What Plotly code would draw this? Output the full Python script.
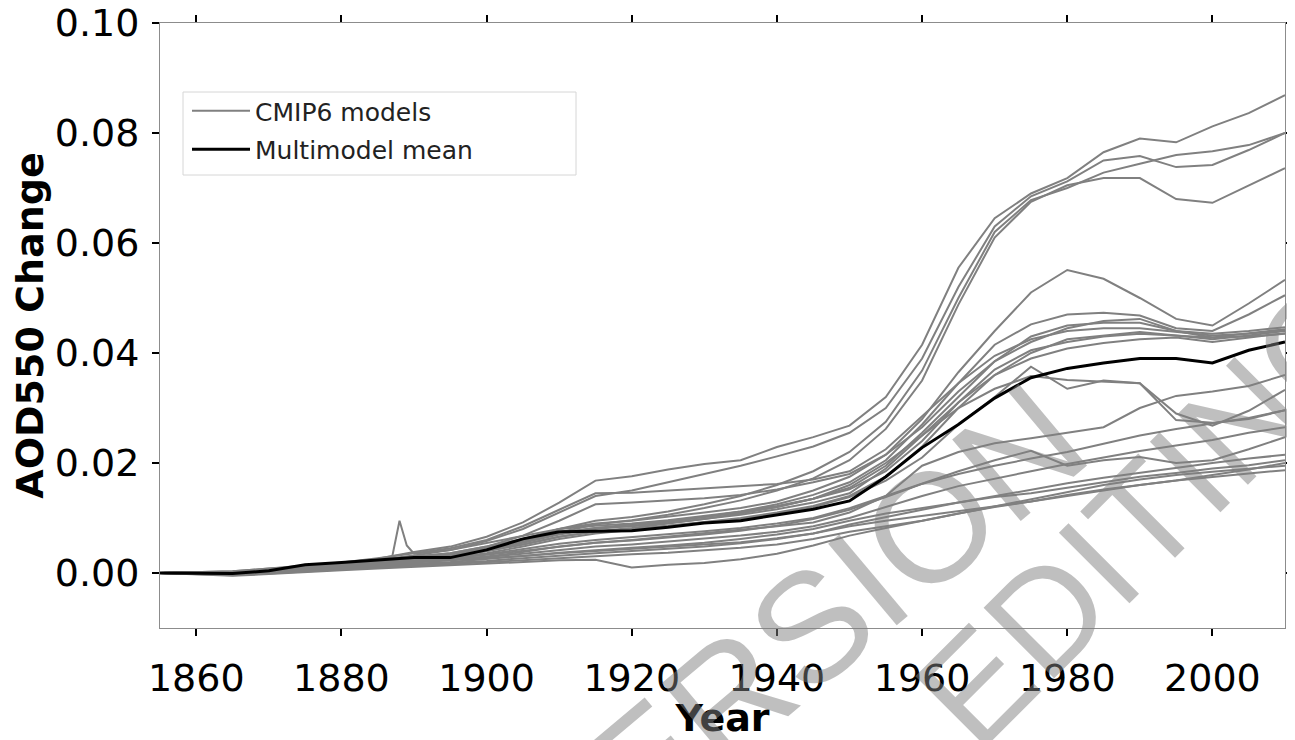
import plotly.graph_objects as go

# ---------------- data (AOD550 change relative to 1850s) ----------------
years = [1855, 1860, 1865, 1870, 1875, 1880, 1885, 1890, 1895, 1900,
         1905, 1910, 1915, 1920, 1925, 1930, 1935, 1940, 1945, 1950,
         1955, 1960, 1965, 1970, 1975, 1980, 1985, 1990, 1995, 2000,
         2005, 2010]

model_t1 = [0, 0.0002, 0.0003, 0.0008, 0.0012, 0.0018, 0.0026, 0.0038, 0.0048, 0.0066, 0.0092, 0.0128, 0.0168, 0.0176, 0.0188, 0.0198, 0.0205, 0.0229, 0.0247, 0.0268, 0.0320, 0.0415, 0.0555, 0.0645, 0.0690, 0.0718, 0.0765, 0.0790, 0.0783, 0.0812, 0.0836, 0.0869]
model_t2 = [0, -0.0002, 0.0002, 0.0006, 0.0011, 0.0016, 0.0024, 0.0032, 0.0042, 0.0058, 0.0080, 0.0110, 0.0140, 0.0150, 0.0165, 0.0180, 0.0195, 0.0212, 0.0230, 0.0255, 0.0300, 0.0390, 0.0520, 0.0630, 0.0685, 0.0712, 0.0750, 0.0758, 0.0738, 0.0742, 0.0769, 0.0800]
model_t3 = [0, 0.0001, -0.0003, 0.0005, 0.0010, 0.0015, 0.0020, 0.0028, 0.0034, 0.0045, 0.0060, 0.0080, 0.0095, 0.0102, 0.0112, 0.0125, 0.0140, 0.0160, 0.0185, 0.0220, 0.0275, 0.0368, 0.0500, 0.0620, 0.0678, 0.0700, 0.0728, 0.0744, 0.0760, 0.0767, 0.0778, 0.0800]
model_t4 = [0, 0, 0.0001, 0.0004, 0.0009, 0.0014, 0.0019, 0.0026, 0.0032, 0.0042, 0.0056, 0.0074, 0.0088, 0.0096, 0.0106, 0.0118, 0.0132, 0.0150, 0.0172, 0.0205, 0.0262, 0.0350, 0.0488, 0.0610, 0.0675, 0.0705, 0.0718, 0.0718, 0.0680, 0.0673, 0.0705, 0.0736]
model_h = [0, 0.0001, 0.0002, 0.0007, 0.0011, 0.0017, 0.0022, 0.0030, 0.0036, 0.0048, 0.0062, 0.0080, 0.0090, 0.0095, 0.0102, 0.0110, 0.0118, 0.0130, 0.0150, 0.0175, 0.0215, 0.0280, 0.0365, 0.0440, 0.0510, 0.0551, 0.0535, 0.0500, 0.0462, 0.0450, 0.0490, 0.0533]
model_p1 = [0, 0, 0.0002, 0.0006, 0.0010, 0.0016, 0.0021, 0.0027, 0.0032, 0.0042, 0.0055, 0.0070, 0.0080, 0.0086, 0.0093, 0.0102, 0.0112, 0.0125, 0.0142, 0.0165, 0.0205, 0.0270, 0.0345, 0.0415, 0.0452, 0.0470, 0.0473, 0.0468, 0.0445, 0.0440, 0.0470, 0.0505]
model_p2 = [0, -0.0002, 0, 0.0005, 0.0009, 0.0015, 0.0020, 0.0026, 0.0030, 0.0040, 0.0052, 0.0066, 0.0076, 0.0082, 0.0090, 0.0098, 0.0108, 0.0120, 0.0135, 0.0155, 0.0195, 0.0255, 0.0320, 0.0385, 0.0430, 0.0450, 0.0455, 0.0455, 0.0440, 0.0435, 0.0440, 0.0447]
model_p3 = [0, 0.0001, -0.0001, 0.0004, 0.0008, 0.0013, 0.0018, 0.0024, 0.0028, 0.0036, 0.0048, 0.0062, 0.0072, 0.0078, 0.0085, 0.0093, 0.0100, 0.0110, 0.0122, 0.0140, 0.0175, 0.0230, 0.0300, 0.0360, 0.0400, 0.0425, 0.0432, 0.0438, 0.0432, 0.0425, 0.0432, 0.0440]
model_p4 = [0, 0, 0.0001, 0.0005, 0.0010, 0.0016, 0.0023, 0.0030, 0.0036, 0.0048, 0.0068, 0.0095, 0.0125, 0.0128, 0.0132, 0.0136, 0.0142, 0.0152, 0.0165, 0.0180, 0.0215, 0.0265, 0.0330, 0.0385, 0.0420, 0.0445, 0.0458, 0.0462, 0.0440, 0.0428, 0.0430, 0.0435]
model_m2 = [0, 0.0002, 0.0003, 0.0008, 0.0013, 0.0019, 0.0027, 0.0036, 0.0045, 0.0060, 0.0085, 0.0115, 0.0145, 0.0146, 0.0150, 0.0154, 0.0157, 0.0162, 0.0170, 0.0185, 0.0225, 0.0285, 0.0345, 0.0395, 0.0425, 0.0440, 0.0445, 0.0445, 0.0438, 0.0432, 0.0435, 0.0442]
model_m3 = [0, -0.0001, 0.0001, 0.0005, 0.0010, 0.0015, 0.0021, 0.0027, 0.0031, 0.0042, 0.0058, 0.0074, 0.0082, 0.0085, 0.0091, 0.0099, 0.0106, 0.0116, 0.0128, 0.0145, 0.0190, 0.0250, 0.0310, 0.0360, 0.0390, 0.0408, 0.0418, 0.0425, 0.0428, 0.0420, 0.0428, 0.0436]
model_d1 = [0, 0.0001, 0.0001, 0.0006, 0.0010, 0.0015, 0.0020, 0.0026, 0.0031, 0.0040, 0.0052, 0.0066, 0.0075, 0.0080, 0.0086, 0.0092, 0.0098, 0.0108, 0.0120, 0.0138, 0.0168, 0.0210, 0.0270, 0.0320, 0.0375, 0.0335, 0.0350, 0.0345, 0.0278, 0.0273, 0.0280, 0.0296]
model_d2 = [0, -0.0001, 0.0002, 0.0006, 0.0011, 0.0016, 0.0022, 0.0028, 0.0033, 0.0044, 0.0058, 0.0072, 0.0082, 0.0088, 0.0095, 0.0102, 0.0110, 0.0120, 0.0135, 0.0160, 0.0200, 0.0250, 0.0300, 0.0335, 0.0358, 0.0351, 0.0348, 0.0345, 0.0290, 0.0268, 0.0295, 0.0333]
model_r1 = [0, 0, -0.0002, 0.0003, 0.0007, 0.0012, 0.0016, 0.0020, 0.0024, 0.0030, 0.0038, 0.0048, 0.0055, 0.0060, 0.0066, 0.0072, 0.0078, 0.0085, 0.0092, 0.0110, 0.0140, 0.0195, 0.0220, 0.0236, 0.0245, 0.0255, 0.0265, 0.0300, 0.0322, 0.0330, 0.0340, 0.0360]
model_s1 = [0, 0.0002, 0.0001, 0.0005, 0.0009, 0.0014, 0.0018, 0.0023, 0.0027, 0.0034, 0.0043, 0.0053, 0.0060, 0.0065, 0.0070, 0.0076, 0.0082, 0.0090, 0.0100, 0.0118, 0.0140, 0.0162, 0.0185, 0.0205, 0.0222, 0.0195, 0.0205, 0.0211, 0.0200, 0.0205, 0.0225, 0.0247]
model_l1 = [0, -0.0001, -0.0002, 0.0002, 0.0006, 0.0010, 0.0013, 0.0017, 0.0020, 0.0025, 0.0031, 0.0037, 0.0042, 0.0046, 0.0050, 0.0055, 0.0062, 0.0070, 0.0080, 0.0095, 0.0108, 0.0118, 0.0128, 0.0138, 0.0145, 0.0155, 0.0165, 0.0175, 0.0182, 0.0190, 0.0196, 0.0205]
model_l2 = [0, 0, -0.0003, 0.0001, 0.0005, 0.0009, 0.0012, 0.0015, 0.0018, 0.0022, 0.0027, 0.0032, 0.0036, 0.0040, 0.0044, 0.0048, 0.0054, 0.0062, 0.0072, 0.0085, 0.0095, 0.0104, 0.0113, 0.0122, 0.0130, 0.0142, 0.0152, 0.0160, 0.0168, 0.0178, 0.0188, 0.0200]
model_l3 = [0, -0.0002, -0.0004, -0.0001, 0.0003, 0.0007, 0.0010, 0.0013, 0.0016, 0.0019, 0.0023, 0.0027, 0.0031, 0.0034, 0.0037, 0.0041, 0.0046, 0.0052, 0.0062, 0.0075, 0.0085, 0.0095, 0.0108, 0.0120, 0.0130, 0.0140, 0.0150, 0.0160, 0.0168, 0.0175, 0.0181, 0.0187]
model_l4 = [0, 0.0001, 0, 0.0004, 0.0008, 0.0012, 0.0016, 0.0020, 0.0024, 0.0029, 0.0035, 0.0042, 0.0048, 0.0052, 0.0057, 0.0062, 0.0068, 0.0075, 0.0085, 0.0100, 0.0120, 0.0140, 0.0158, 0.0172, 0.0185, 0.0198, 0.0210, 0.0222, 0.0232, 0.0242, 0.0255, 0.0265]
model_l5 = [0, 0, 0.0001, 0.0005, 0.0009, 0.0014, 0.0018, 0.0023, 0.0027, 0.0033, 0.0040, 0.0048, 0.0055, 0.0059, 0.0064, 0.0070, 0.0077, 0.0086, 0.0098, 0.0115, 0.0138, 0.0162, 0.0180, 0.0195, 0.0208, 0.0220, 0.0235, 0.0250, 0.0262, 0.0272, 0.0282, 0.0296]
model_l6 = [0, -0.0003, -0.0005, -0.0002, 0.0002, 0.0005, 0.0008, 0.0011, 0.0014, 0.0017, 0.0020, 0.0023, 0.0024, 0.0010, 0.0015, 0.0018, 0.0025, 0.0035, 0.0050, 0.0068, 0.0082, 0.0095, 0.0108, 0.0122, 0.0135, 0.0148, 0.0160, 0.0170, 0.0178, 0.0184, 0.0190, 0.0195]
model_l7 = [0, 0, -0.0001, 0.0003, 0.0007, 0.0011, 0.0015, 0.0019, 0.0022, 0.0026, 0.0031, 0.0036, 0.0040, 0.0043, 0.0047, 0.0051, 0.0056, 0.0063, 0.0072, 0.0088, 0.0102, 0.0115, 0.0128, 0.0140, 0.0152, 0.0163, 0.0173, 0.0182, 0.0192, 0.0200, 0.0208, 0.0215]

# model with a volcanic-like spike near 1888 (own year axis)
years_m1 = [1855, 1860, 1865, 1870, 1875, 1880, 1885, 1887, 1888, 1889, 1890, 1895, 1900,
            1905, 1910, 1915, 1920, 1925, 1930, 1935, 1940, 1945, 1950, 1955, 1960,
            1965, 1970, 1975, 1980, 1985, 1990, 1995, 2000, 2005, 2010]
model_m1 = [0, 0, 0.0002, 0.0006, 0.0010, 0.0016, 0.0022, 0.0030, 0.0095, 0.0050, 0.0035, 0.0042, 0.0055,
            0.0068, 0.0080, 0.0086, 0.0090, 0.0096, 0.0104, 0.0112, 0.0122, 0.0135, 0.0152, 0.0185, 0.0240,
            0.0310, 0.0370, 0.0405, 0.0420, 0.0430, 0.0435, 0.0432, 0.0428, 0.0436, 0.0443]

multimodel_mean = [0, 0.0000, -0.0001, 0.0004, 0.0015, 0.0019, 0.0024, 0.0028, 0.0028, 0.0042,
                   0.0062, 0.0075, 0.0076, 0.0077, 0.0083, 0.0091, 0.0095, 0.0106, 0.0116, 0.0131,
                   0.0175, 0.0228, 0.0270, 0.0318, 0.0355, 0.0372, 0.0382, 0.0390, 0.0390, 0.0382,
                   0.0405, 0.0420]

x_ticks = [1860, 1880, 1900, 1920, 1940, 1960, 1980, 2000]
y_ticks = [0.00, 0.02, 0.04, 0.06, 0.08, 0.10]

models = [model_t1, model_t2, model_t3, model_t4, model_h, model_p1, model_p2,
          model_p3, model_p4, model_m2, model_m3, model_d1, model_d2, model_r1,
          model_s1, model_l1, model_l2, model_l3, model_l4, model_l5, model_l6,
          model_l7]

# ---------------- figure ----------------
GRAY = "#808080"
FONT = "DejaVu Sans"

fig = go.Figure()

series = [(years, m) for m in models] + [(years_m1, model_m1)]
for i, (xs, ys) in enumerate(series):
    fig.add_trace(go.Scatter(
        x=xs, y=ys, mode="lines",
        line=dict(color=GRAY, width=2),
        name="CMIP6 models", legendgroup="models",
        showlegend=(i == 0), hoverinfo="skip"))

fig.add_trace(go.Scatter(
    x=years, y=multimodel_mean, mode="lines",
    line=dict(color="black", width=3),
    name="Multimodel mean", legendgroup="mean", showlegend=True))

OFF = 8                      # page body margin of the browser
W, H = 1295 - OFF, 740 - OFF
L, R, T, B = 160 - OFF, 10, 23 - OFF, 112
pw, ph = W - L - R, H - T - B

def px(xpage):
    return (xpage - OFF - L) / pw

def py(ypage):
    return (H - B - (ypage - OFF)) / ph

axis_common = dict(
    showgrid=False, zeroline=False,
    showline=True, linecolor="#8c8c8c", linewidth=1, mirror="ticks",
    ticks="outside", ticklen=7, tickwidth=2, tickcolor="black",
    tickfont=dict(family=FONT, size=38, color="black"),
    ticklabeloverflow="allow",
)

fig.update_layout(
    width=W, height=H,
    margin=dict(l=L, r=R, t=T, b=B, autoexpand=False),
    paper_bgcolor="white", plot_bgcolor="white",
    font=dict(family=FONT, color="black"),
    xaxis=dict(range=[1855, 2010], tickvals=x_ticks,
               ticklabelstandoff=9,
               title=dict(text="<b>Year</b>", font=dict(family=FONT, size=38), standoff=9),
               **axis_common),
    yaxis=dict(range=[-0.01, 0.10], tickvals=y_ticks, tickformat=".2f",
               ticklabelstandoff=5,
               title=dict(text="<b>AOD550 Change</b>", font=dict(family=FONT, size=38), standoff=1),
               **axis_common),
    legend=dict(x=px(187), y=py(88), xanchor="left", yanchor="top",
                bgcolor="rgba(0,0,0,0)", borderwidth=0,
                font=dict(family=FONT, size=25, color="#222222"),
                itemwidth=58, tracegroupgap=3),
    showlegend=True,
)

# legend frame (matplotlib style)
fig.add_shape(type="rect", xref="paper", yref="paper",
              x0=px(183), x1=px(576), y0=py(175), y1=py(92),
              line=dict(color="#d6d6d6", width=1), fillcolor="white", layer="above")

# watermark
for txt, cx, cy, fs, ang in [("VERSION", 795, 640, 155, -40), ("EDITING", 1150, 512, 145, -45)]:
    fig.add_annotation(text=txt, xref="paper", yref="paper", x=px(cx), y=py(cy),
                       xanchor="center", yanchor="middle", showarrow=False,
                       textangle=ang,
                       font=dict(family="Liberation Sans", size=fs,
                                 color="rgba(128,128,128,0.5)"))

fig.write_html("out.html")
